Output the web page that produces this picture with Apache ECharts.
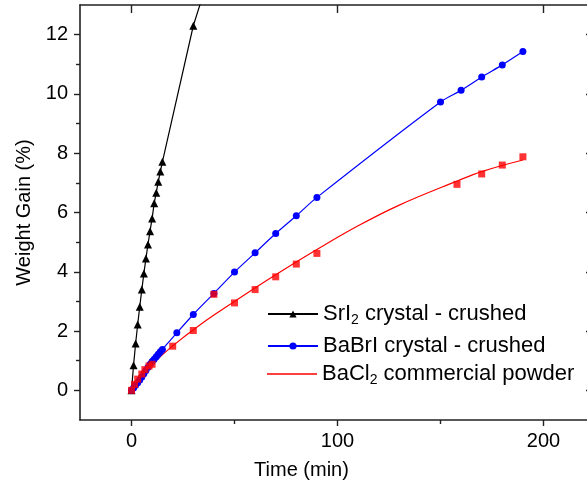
<!DOCTYPE html>
<html>
<head>
<meta charset="utf-8">
<script src="https://cdn.jsdelivr.net/npm/echarts@6/dist/echarts.min.js"></script>
<style>
html,body{margin:0;padding:0;background:#fff;}
#chart{width:587px;height:485px;}
</style>
</head>
<body>
<div id="chart"></div>
<script>
// SrI2 crystal - crushed
const srTime = [0,1,2,3,4,5,6,7,8,9,10,11,12,13,14,15,30,60];
const srGain = [0,0.85,1.58,2.22,2.82,3.40,3.94,4.45,4.92,5.37,5.80,6.31,6.67,7.04,7.38,7.71,12.3,18.9];
// BaBrI crystal - crushed
const bbTime = [0,1,2,3,4,5,6,7,8,9,10,11,12,13,14,15,22,30,40,50,60,70,80,90,150,160,170,180,190];
const bbGain = [0,0.08,0.17,0.26,0.35,0.45,0.56,0.67,0.78,0.88,0.97,1.05,1.13,1.22,1.30,1.38,1.94,2.56,3.27,3.99,4.64,5.29,5.89,6.51,9.73,10.12,10.57,10.98,11.43];
// BaCl2 commercial powder (measured points)
const bcTime = [0,1.5,3,5,6.5,8.5,10,20,30,40,50,60,70,80,90,158,170,180,190];
const bcGain = [0,0.20,0.38,0.55,0.70,0.82,0.88,1.49,2.02,3.24,2.95,3.40,3.83,4.26,4.62,6.95,7.30,7.60,7.88];
// BaCl2 fitted curve
const fitTime = [0,2,5,10,20,33,50,70,90,110,130,158,170,190];
const fitGain = [0,0.25,0.52,0.88,1.50,2.20,3.00,3.90,4.75,5.55,6.25,7.06,7.38,7.77];
// ticks
const xMajor = [0,100,200];
const xMinor = [50,150];
const yMajor = [0,2,4,6,8,10,12];
const yMinor = [1,3,5,7,9,11];
const names = ['SrI2 crystal - crushed','BaBrI crystal - crushed','BaCl2 commercial powder'];

const zip = (a,b) => a.map((v,i)=>[v,b[i]]);
const FONT = 'Liberation Sans, Arial, sans-serif';
const AX = '#222';

const chart = echarts.init(document.getElementById('chart'), null, {renderer:'canvas'});
const legendText = {
  fontFamily: FONT, fontSize: 22, color: '#000',
  rich: { sub: { fontFamily: FONT, fontSize: 14, color:'#000', padding:[12,0,0,0] } }
};
const fmt = n => n.replace('SrI2','SrI{sub|2}').replace('BaCl2','BaCl{sub|2}');
const mkLegend = (name, top, extra) => Object.assign({
  data:[name], left: 262, top: top, orient:'vertical',
  itemWidth: 50, itemHeight: 9, itemGap: 0,
  textStyle: legendText, formatter: fmt, selectedMode:false
}, extra || {});

chart.setOption({
  animation:false,
  backgroundColor:'#fff',
  grid:{left:80, width:515, top:5, height:415, containLabel:false, outerBoundsMode:'none'},
  legend:[ mkLegend(names[0], 298), mkLegend(names[1], 330),
           mkLegend(names[2], 358, {icon:'rect', itemHeight:1.5}) ],
  xAxis:[
    {type:'value', position:'bottom', min:-25, max:225,
     name:'Time (min)', nameLocation:'middle', nameGap:40,
     nameTextStyle:{fontFamily:FONT, fontSize:20, color:'#000', padding:[0,72,0,0]},
     axisLine:{show:true, onZero:false, lineStyle:{color:AX, width:1.6}},
     axisTick:{show:true, inside:false, length:6, customValues:xMajor, lineStyle:{color:AX, width:1.4}},
     axisLabel:{show:true, customValues:xMajor, margin:11, fontFamily:FONT, fontSize:20, color:'#000'},
     splitLine:{show:false}},
    {type:'value', position:'top', min:-25, max:225,
     axisLine:{show:true, onZero:false, lineStyle:{color:AX, width:1.6}},
     axisTick:{show:true, inside:true, length:8, customValues:xMajor, lineStyle:{color:AX, width:1.4}},
     axisLabel:{show:false}, splitLine:{show:false}},
    {type:'value', position:'bottom', min:-25, max:225,
     axisLine:{show:false, onZero:false},
     axisTick:{show:true, inside:false, length:4, customValues:xMinor, lineStyle:{color:AX, width:1.4}},
     axisLabel:{show:false}, splitLine:{show:false}}
  ],
  yAxis:[
    {type:'value', position:'left', min:-1, max:13,
     name:'Weight Gain (%)', nameLocation:'middle', nameGap:45,
     nameTextStyle:{fontFamily:FONT, fontSize:20, color:'#000'},
     axisLine:{show:true, onZero:false, lineStyle:{color:AX, width:1.6}},
     axisTick:{show:true, inside:false, length:6, customValues:yMajor, lineStyle:{color:AX, width:1.4}},
     axisLabel:{show:true, customValues:yMajor, margin:12, fontFamily:FONT, fontSize:20, color:'#000'},
     splitLine:{show:false}},
    {type:'value', position:'right', min:-1, max:13,
     axisLine:{show:true, onZero:false, lineStyle:{color:AX, width:1.6}},
     axisTick:{show:true, inside:true, length:9, customValues:yMajor, lineStyle:{color:AX, width:1.4}},
     axisLabel:{show:false}, splitLine:{show:false}},
    {type:'value', position:'left', min:-1, max:13,
     axisLine:{show:false, onZero:false},
     axisTick:{show:true, inside:false, length:4, customValues:yMinor, lineStyle:{color:AX, width:1.4}},
     axisLabel:{show:false}, splitLine:{show:false}}
  ],
  series:[
    {name:names[0], type:'line', xAxisIndex:0, yAxisIndex:0, data:zip(srTime,srGain),
     symbol:'triangle', symbolSize:8, clip:true, z:3,
     lineStyle:{color:'#000', width:1.2}, itemStyle:{color:'#000'}},
    {name:names[1], type:'line', xAxisIndex:0, yAxisIndex:0, data:zip(bbTime,bbGain),
     symbol:'circle', symbolSize:7, smooth:0.3, clip:true, z:4,
     lineStyle:{color:'#0000ff', width:1.2}, itemStyle:{color:'#0000ff'}},
    {name:'BaCl2 points', type:'scatter', xAxisIndex:0, yAxisIndex:0, data:zip(bcTime,bcGain),
     symbol:'rect', symbolSize:7, z:5, itemStyle:{color:'#ff0000'}},
    {name:names[2], type:'line', xAxisIndex:0, yAxisIndex:0, data:zip(fitTime,fitGain),
     symbol:'none', smooth:0.4, clip:true, z:4,
     lineStyle:{color:'#ff0000', width:1.2}, itemStyle:{color:'#ff0000'}}
  ]
});
</script>
</body>
</html>
